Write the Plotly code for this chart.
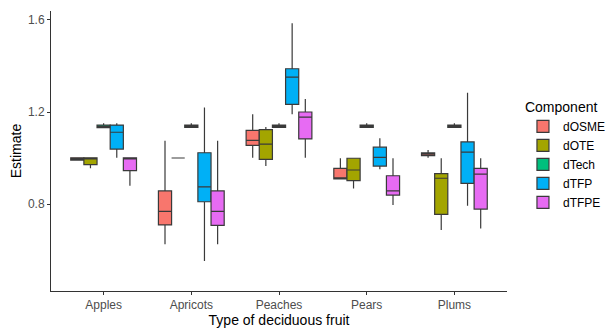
import plotly.graph_objects as go

fruits = ["Apples", "Apricots", "Peaches", "Pears", "Plums"]
components = ["dOSME", "dOTE", "dTech", "dTFP", "dTFPE"]
colors = ["#F8766D", "#A3A500", "#00BF7D", "#00B0F6", "#E76BF3"]

# per component: values for Apples, Apricots, Peaches, Pears, Plums
lower = {
    "dOSME": [0.990, 0.625, 1.001, 0.909, 1.001],
    "dOTE":  [0.955, 1.000, 0.965, 0.868, 0.687],
    "dTech": [1.132, 1.133, 1.133, 1.133, 1.133],
    "dTFP":  [1.001, 0.552, 1.190, 0.951, 0.793],
    "dTFPE": [0.880, 0.625, 1.001, 0.796, 0.694],
}
q1 = {
    "dOSME": [0.991, 0.709, 1.055, 0.909, 1.010],
    "dOTE":  [0.971, 1.000, 0.994, 0.902, 0.755],
    "dTech": [1.132, 1.133, 1.133, 1.133, 1.133],
    "dTFP":  [1.039, 0.810, 1.233, 0.965, 0.890],
    "dTFPE": [0.945, 0.707, 1.083, 0.839, 0.778],
}
median = {
    "dOSME": [0.997, 0.768, 1.077, 0.912, 1.017],
    "dOTE":  [0.999, 1.000, 1.060, 0.948, 0.912],
    "dTech": [1.137, 1.137, 1.137, 1.137, 1.137],
    "dTFP":  [1.112, 0.875, 1.352, 1.003, 1.026],
    "dTFPE": [0.999, 0.768, 1.178, 0.857, 0.930],
}
q3 = {
    "dOSME": [1.001, 0.857, 1.120, 0.955, 1.022],
    "dOTE":  [1.001, 1.000, 1.123, 0.999, 0.932],
    "dTech": [1.143, 1.143, 1.143, 1.143, 1.143],
    "dTFP":  [1.143, 1.023, 1.388, 1.047, 1.070],
    "dTFPE": [1.001, 0.857, 1.200, 0.923, 0.955],
}
upper = {
    "dOSME": [1.002, 1.075, 1.190, 0.999, 1.035],
    "dOTE":  [1.001, 1.000, 1.135, 0.999, 0.999],
    "dTech": [1.151, 1.151, 1.151, 1.151, 1.151],
    "dTFP":  [1.151, 1.220, 1.586, 1.086, 1.284],
    "dTFPE": [1.001, 1.075, 1.257, 0.999, 0.999],
}

y_ticks = [0.8, 1.2, 1.6]

fig = go.Figure()
for comp, col in zip(components, colors):
    fig.add_trace(go.Box(
        name=comp,
        x=fruits,
        q1=q1[comp], median=median[comp], q3=q3[comp],
        lowerfence=lower[comp], upperfence=upper[comp],
        fillcolor=col,
        line=dict(color="#3a3a3a", width=1.2),
        whiskerwidth=0,
        boxpoints=False,
        hoverinfo="skip",
    ))

font_family = "Liberation Sans, Arial, sans-serif"
fig.update_layout(
    width=614, height=328,
    margin=dict(l=51, r=107, t=11, b=37, autoexpand=False),
    paper_bgcolor="white", plot_bgcolor="white",
    boxmode="group", boxgap=0.25, boxgroupgap=0,
    font=dict(family=font_family, color="black"),
    showlegend=True,
    legend=dict(
        title=dict(text="Component", font=dict(size=14, color="black")),
        font=dict(size=12, color="black"),
        x=1.035, xanchor="left", y=0.705, yanchor="top",
        tracegroupgap=0, itemwidth=30,
        bgcolor="rgba(0,0,0,0)",
    ),
    xaxis=dict(
        title=dict(text="Type of deciduous fruit", font=dict(size=14, color="black"), standoff=4),
        type="category", categoryorder="array", categoryarray=fruits,
        range=[-0.6, 4.6], automargin=True,
        showline=True, linecolor="#333333", linewidth=1,
        ticks="outside", ticklen=3, tickcolor="#333333", tickwidth=1,
        ticklabelstandoff=0,
        tickfont=dict(size=12, color="#4D4D4D"),
        showgrid=False, zeroline=False,
    ),
    yaxis=dict(
        title=dict(text="Estimate", font=dict(size=14, color="black"), standoff=3),
        range=[0.422, 1.639], automargin=True,
        tickvals=y_ticks, ticktext=[f"{v:.1f}" for v in y_ticks],
        showline=True, linecolor="#333333", linewidth=1,
        ticks="outside", ticklen=3, tickcolor="#333333", tickwidth=1,
        tickfont=dict(size=12, color="#4D4D4D"),
        showgrid=False, zeroline=False,
    ),
)

fig.write_html("out.html")
